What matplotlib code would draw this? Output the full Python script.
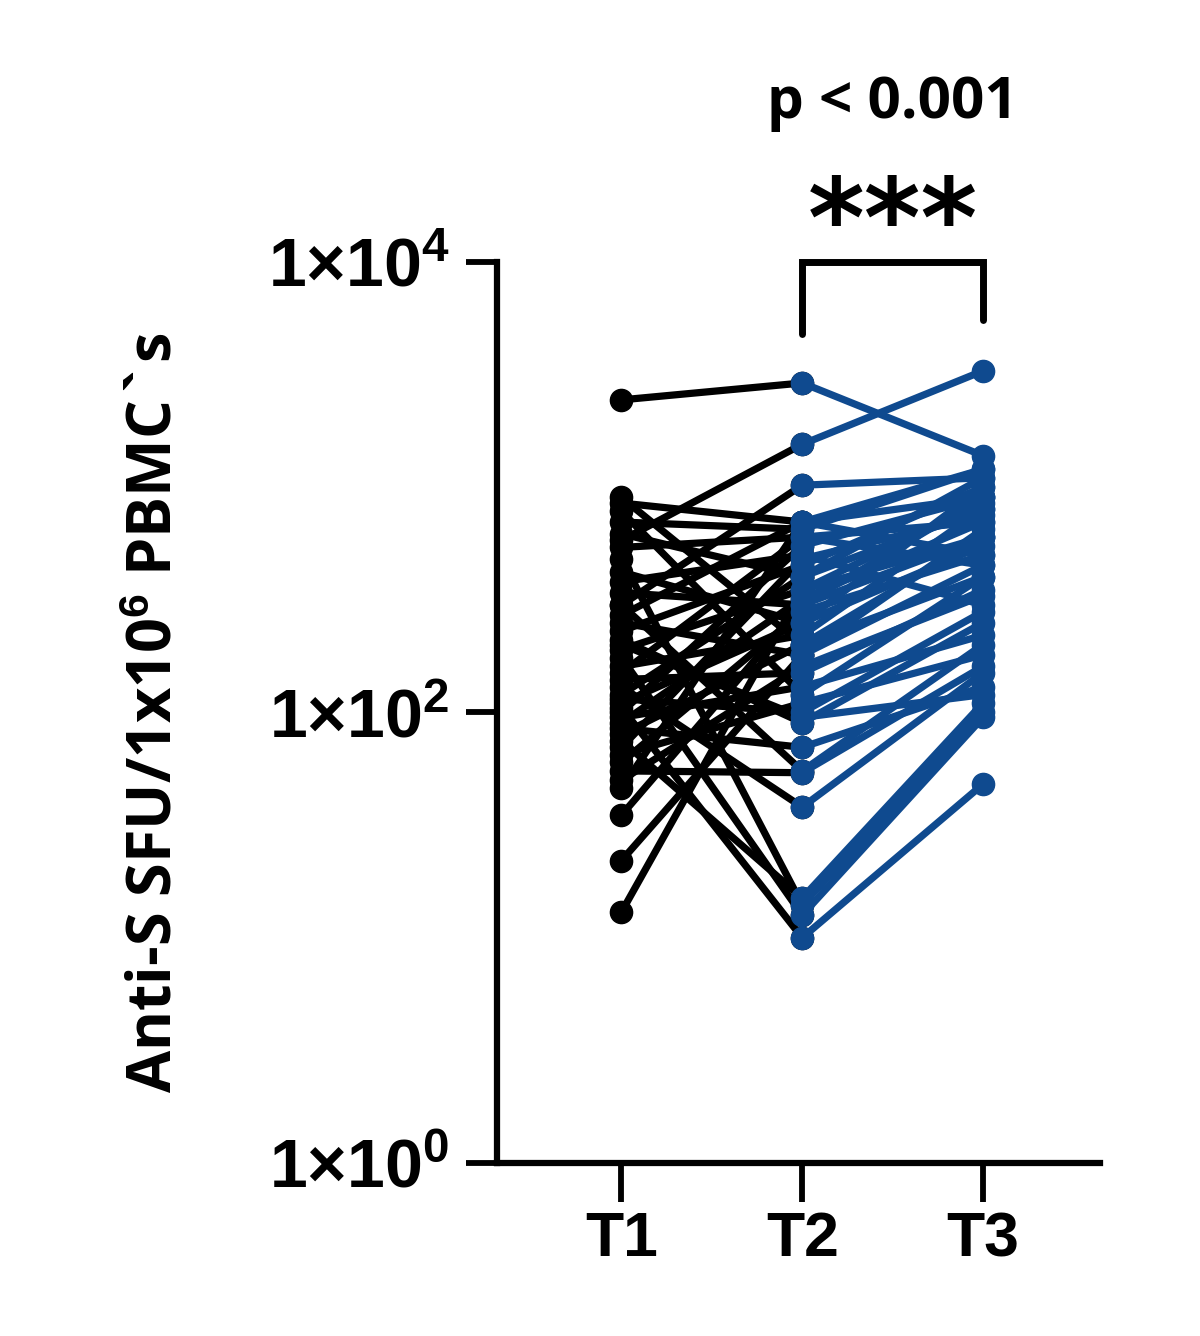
import numpy as np
import matplotlib
matplotlib.use('Agg')
import matplotlib.pyplot as plt

plt.rcParams['font.family'] = ['Liberation Sans', 'DejaVu Sans']
plt.rcParams['font.weight'] = 'bold'
plt.rcParams['mathtext.fontset'] = 'custom'
plt.rcParams['mathtext.rm'] = 'Liberation Sans:bold'
plt.rcParams['mathtext.bf'] = 'Liberation Sans:bold'
plt.rcParams['mathtext.it'] = 'Liberation Sans:bold'

# Anti-S SFU per 1x10^6 PBMC, one entry per subject
timepoints = ['T1', 'T2', 'T3']
t1 = [2440, 580, 300, 900, 850, 780, 700, 620, 540, 480, 420, 380, 340, 300, 270,
      250, 230, 210, 190, 175, 160, 150, 140, 130, 120, 115, 110, 105, 100, 95,
      90, 85, 80, 75, 70, 65, 60, 55, 50, 46, 35, 22, 13, 200]
t2 = [2900, 1550, 1020, 200, 700, 120, 650, 400, 600, 14, 250, 500, 300, 55, 700,
      180, 450, 90, 350, 12.6, 220, 600, 150, 38, 400, 100, 250, 10, 550, 130,
      320, 70, 200, 15, 480, 110, 280, 54, 160, 700, 300, 180, 350, 95]
t3 = [1380, 3280, 1100, 600, 900, 400, 1200, 800, 700, 100, 1000, 300, 900, 200, 500,
      650, 1000, 250, 600, 95, 800, 450, 350, 150, 1100, 280, 550, 48, 900, 220,
      700, 130, 400, 110, 750, 180, 500, 160, 330, 1200, 600, 450, 850, 120]

black = '#000000'
blue = '#0f4a8f'
x = np.arange(len(timepoints))

fig = plt.figure(figsize=(12, 13.36), dpi=100)
ax = fig.add_axes([0.414, 0.1295, 0.503, 0.6745])

for a, b in zip(t1, t2):
    ax.plot(x[:2], [a, b], color=black, lw=5.2, marker='o', ms=16,
            solid_capstyle='round', zorder=2)
for b, c in zip(t2, t3):
    ax.plot(x[1:], [b, c], color=blue, lw=5.2, marker='o', ms=16,
            solid_capstyle='round', zorder=3)

ax.set_yscale('log')
ax.set_ylim(1, 1e4)
ax.set_xlim(-0.69, 2.65)
ax.set_yticks([1, 1e2, 1e4])
ax.set_yticklabels([r'$1{\times}10^{0}$', r'$1{\times}10^{2}$', r'$1{\times}10^{4}$'])
ax.minorticks_off()
ax.set_xticks(x)
ax.set_xticklabels(timepoints)

for side in ['top', 'right']:
    ax.spines[side].set_visible(False)
for side in ['left', 'bottom']:
    ax.spines[side].set_linewidth(4.5)
ax.tick_params(axis='y', length=22, width=4.2, labelsize=49, pad=12)
ax.tick_params(axis='x', length=28, width=4.2, labelsize=45, pad=6)

ax.set_ylabel(r'Anti-S SFU/1x10$^{6}$ PBMC`s', fontsize=44, fontweight='bold',
              family='Open Sans', labelpad=58)

# significance bracket between T2 and T3
trans = ax.get_xaxis_transform()
ax.plot([x[1], x[1], x[2], x[2]], [0.92, 1.0, 1.0, 0.935], color=black, lw=5,
        transform=trans, clip_on=False, solid_joinstyle='miter', solid_capstyle='round')
ax.text((x[1] + x[2]) / 2, 0.981, '***', transform=trans, ha='center', va='bottom',
        fontsize=78, fontweight='bold', family='DejaVu Sans')
ax.text((x[1] + x[2]) / 2, 1.144, 'p < 0.001', transform=trans, ha='center', va='bottom',
        fontsize=42, fontweight='bold', family='Open Sans')

fig.savefig('out.png', dpi=100)
